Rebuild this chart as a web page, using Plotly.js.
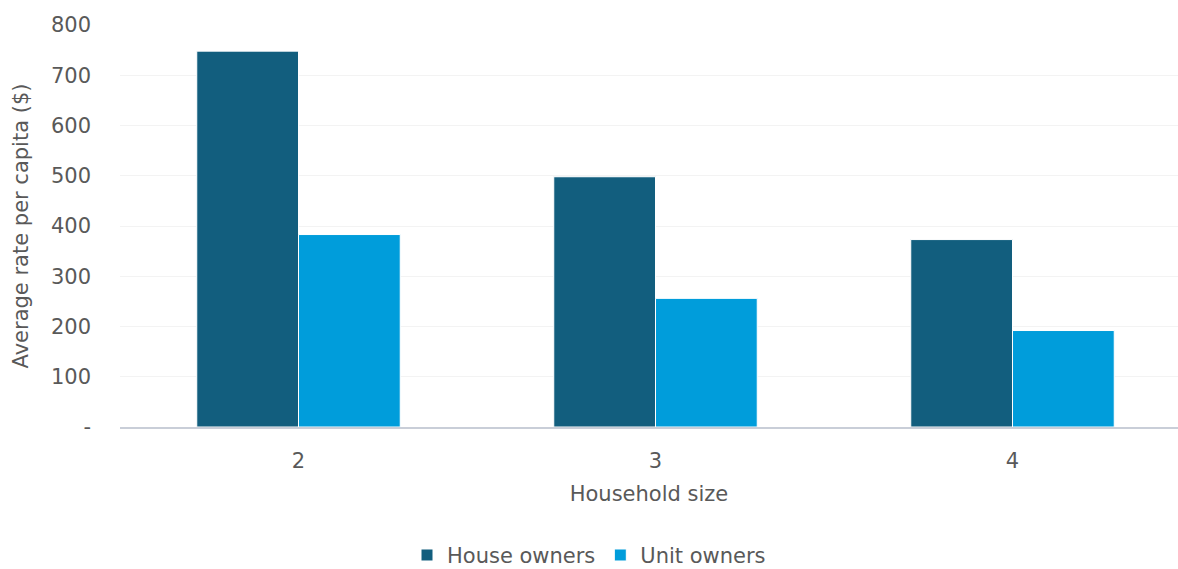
<!DOCTYPE html>
<html>
<head>
<meta charset="utf-8">
<script src="https://cdn.plot.ly/plotly-3.0.1.min.js"></script>
<style>html,body{margin:0;padding:0;background:#fff;}#chart{width:1178px;height:569px;}</style>
</head>
<body>
<div id="chart"></div>
<script>
const categories = ["2", "3", "4"];
const houseOwners = [748, 498, 373];
const unitOwners = [383, 256, 192];
const yTickVals = [0, 100, 200, 300, 400, 500, 600, 700, 800];
const yTickText = ["-", "100", "200", "300", "400", "500", "600", "700", "800"];

const FONT = "DejaVu Sans, sans-serif";
const TXT = "#595959";
const FS = 21;

const traces = [
  {type: "bar", name: "House owners", x: categories, y: houseOwners,
   marker: {color: "#125e7e", line: {color: "#ffffff", width: 1}}},
  {type: "bar", name: "Unit owners", x: categories, y: unitOwners,
   marker: {color: "#009ddb", line: {color: "#ffffff", width: 1}}}
];

const layout = {
  width: 1178, height: 569,
  margin: {l: 120, r: 0, t: 25, b: 142},
  paper_bgcolor: "#fff", plot_bgcolor: "#fff",
  font: {family: FONT, color: TXT, size: FS},
  barmode: "group", bargap: 0.43, bargroupgap: 0,
  showlegend: true,
  legend: {orientation: "h", x: 0.5, xref: "container", xanchor: "center",
           y: 0.024, yref: "container", yanchor: "middle",
           font: {size: FS, color: TXT}, itemwidth: 30, traceorder: "normal"},
  xaxis: {
    type: "category", range: [-0.5, 2.4636],
    showline: true, linecolor: "#c9ced8", linewidth: 2,
    showgrid: false, ticks: "", ticklabelstandoff: 14,
    tickfont: {size: FS, color: TXT},
    title: {text: "Household size", font: {size: FS, color: TXT}, standoff: 14}
  },
  yaxis: {
    range: [0, 800], tickvals: yTickVals, ticktext: yTickText,
    showgrid: true, gridcolor: "#f3f3f3", gridwidth: 1,
    zeroline: false, showline: false, ticks: "", ticklabelstandoff: 28,
    tickfont: {size: FS, color: TXT},
    title: {text: "Average rate per capita ($)", font: {size: FS, color: TXT}, standoff: 16}
  }
};

Plotly.newPlot("chart", traces, layout, {displayModeBar: false, staticPlot: true});
</script>
</body>
</html>
